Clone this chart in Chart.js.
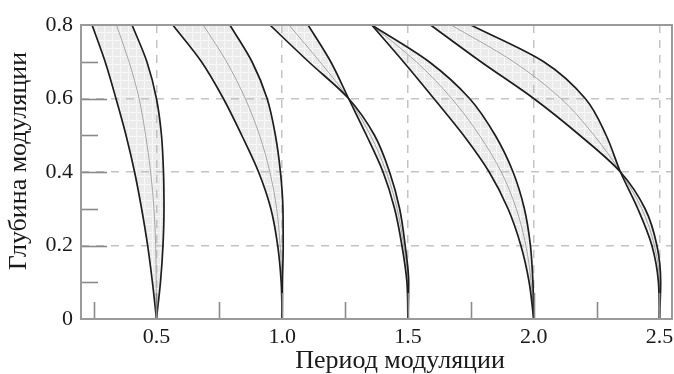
<!DOCTYPE html>
<html><head><meta charset="utf-8">
<script src="https://cdn.jsdelivr.net/npm/chart.js@4"></script>
<style>html,body{margin:0;padding:0;background:#fff}#wrap{width:674px;height:374px}</style>
</head><body><div id="wrap"><canvas id="c" width="674" height="374"></canvas></div>
<script>
// Modulation depth levels (y), bottom to top
const amplitude = [0, 0.1, 0.2, 0.3, 0.4, 0.5, 0.6, 0.7, 0.8];

// Tongue 1 (period 0.5)
const t1Left  = [0.500, 0.484, 0.465, 0.441, 0.413, 0.379, 0.339, 0.296, 0.244];
const t1Right = [0.500, 0.516, 0.526, 0.530, 0.528, 0.520, 0.500, 0.462, 0.403];
const t1Mid   = [0.500, 0.499, 0.497, 0.490, 0.477, 0.457, 0.431, 0.391, 0.341];
// Tongue 2 (period 1.0)
const t2Left  = [1.000, 0.996, 0.982, 0.955, 0.906, 0.839, 0.766, 0.679, 0.565];
const t2Right = [1.000, 1.001, 1.004, 1.003, 0.993, 0.973, 0.940, 0.880, 0.792];
const t2Mid   = [1.000, 0.999, 0.992, 0.978, 0.951, 0.910, 0.853, 0.779, 0.686];
// Tongue 3 (period 1.5)
const t3A   = [1.500, 1.503, 1.489, 1.467, 1.427, 1.367, 1.264, 1.105, 0.951];
const t3B   = [1.500, 1.496, 1.476, 1.447, 1.401, 1.335, 1.264, 1.193, 1.103];
const t3Mid = [1.500, 1.500, 1.483, 1.457, 1.414, 1.351, 1.264, 1.150, 1.027];
// Tongue 4 (period 2.0)
const t4Left  = [2.000, 1.982, 1.949, 1.898, 1.823, 1.721, 1.603, 1.482, 1.356];
const t4Right = [2.000, 1.997, 1.987, 1.963, 1.918, 1.847, 1.745, 1.584, 1.356];
const t4Mid   = [2.000, 1.990, 1.969, 1.931, 1.871, 1.784, 1.674, 1.533, 1.356];
// Tongue 5 (period 2.5)
const t5A   = [2.500, 2.505, 2.490, 2.443, 2.345, 2.183, 2.000, 1.790, 1.590];
const t5B   = [2.500, 2.496, 2.470, 2.414, 2.345, 2.288, 2.205, 2.040, 1.750];
const t5Mid = [2.500, 2.500, 2.480, 2.430, 2.345, 2.240, 2.108, 1.920, 1.672];

// Axis ticks
const xTicks = [0.25, 0.5, 0.75, 1.0, 1.25, 1.5, 1.75, 2.0, 2.25, 2.5];
const xMajor = [0.5, 1.0, 1.5, 2.0, 2.5];
const yTicks = [0, 0.1, 0.2, 0.3, 0.4, 0.5, 0.6, 0.7, 0.8];
const yMajor = [0.2, 0.4, 0.6];
const yLabels = [0, 0.2, 0.4, 0.6, 0.8];
const xTitle = 'Период модуляции';
const yTitle = 'Глубина модуляции';

const FONT = '"Liberation Serif", "DejaVu Serif", serif';
const near = (a, b) => Math.abs(a - b) < 1e-6;
const inList = (list, v) => list.some(t => near(t, v));

const canvas = document.getElementById('c');
const c2d = canvas.getContext('2d');
const pc = document.createElement('canvas'); pc.width = 8; pc.height = 8;
const p = pc.getContext('2d');
p.fillStyle = 'rgba(190,190,190,0.30)'; p.fillRect(0, 0, 8, 8);
p.clearRect(0, 0, 8, 1); p.clearRect(0, 0, 1, 8);
p.fillStyle = 'rgba(190,190,190,0.10)'; p.fillRect(0, 0, 8, 1); p.fillRect(0, 0, 1, 8);
const pattern = c2d.createPattern(pc, 'repeat');

const pts = xs => xs.map((x, i) => ({x: x, y: amplitude[i]}));
const tongues = [
  [t1Left, t1Right, t1Mid],
  [t2Left, t2Right, t2Mid],
  [t3A, t3B, t3Mid],
  [t4Left, t4Right, t4Mid],
  [t5A, t5B, t5Mid]
];
const lineOpts = {pointRadius: 0, cubicInterpolationMode: 'monotone'};
const datasets = [];
tongues.forEach(([a, b, m]) => {
  const base = datasets.length;
  datasets.push(Object.assign({data: pts(a), borderColor: '#1e1e1e', borderWidth: 1.7,
    fill: {target: base + 1}, backgroundColor: pattern}, lineOpts));
  datasets.push(Object.assign({data: pts(b), borderColor: '#1e1e1e', borderWidth: 1.7, fill: false}, lineOpts));
  datasets.push(Object.assign({data: pts(m), borderColor: '#a6a6a6', borderWidth: 1, fill: false}, lineOpts));
});

const decor = {
  id: 'decor',
  afterDraw(chart) {
    const ctx = chart.ctx, a = chart.chartArea, xs = chart.scales.x, ys = chart.scales.y;
    ctx.save();
    ctx.strokeStyle = '#8a8a8a'; ctx.lineWidth = 1.6;
    xTicks.forEach(v => {
      const px = Math.round(xs.getPixelForValue(v)) + 0.5;
      const len = inList(xMajor, v) ? 26 : 17;
      ctx.beginPath(); ctx.moveTo(px, a.bottom); ctx.lineTo(px, a.bottom - len); ctx.stroke();
    });
    yTicks.forEach(v => {
      if (near(v, 0) || near(v, 0.8)) return;
      const py = Math.round(ys.getPixelForValue(v)) + 0.5;
      const len = inList(yMajor, v) ? 26 : 17;
      ctx.beginPath(); ctx.moveTo(a.left, py); ctx.lineTo(a.left + len, py); ctx.stroke();
    });
    ctx.strokeStyle = '#9a9a9a'; ctx.lineWidth = 2;
    ctx.strokeRect(a.left, a.top, a.right - a.left, a.bottom - a.top);
    ctx.fillStyle = '#1a1a1a';
    ctx.font = '26px ' + FONT;
    ctx.textAlign = 'center'; ctx.textBaseline = 'alphabetic';
    ctx.fillText(xTitle, 400, 368);
    ctx.translate(26, 161); ctx.rotate(-Math.PI / 2);
    ctx.fillText(yTitle, 0, 0);
    ctx.restore();
  }
};

new Chart(canvas, {
  type: 'line',
  data: {datasets: datasets},
  plugins: [decor],
  options: {
    responsive: false, animation: false, devicePixelRatio: 1,
    indexAxis: 'y',
    layout: {padding: {top: 25, right: 2, left: 0, bottom: 0}},
    plugins: {legend: {display: false}, tooltip: {enabled: false}, filler: {drawTime: 'beforeDatasetsDraw'}},
    scales: {
      x: {
        type: 'linear', position: 'bottom', min: 0.2, max: 2.55,
        afterBuildTicks: s => { s.ticks = xTicks.map(v => ({value: v})); },
        afterFit: s => { s.height = 55; s.paddingLeft = 0; s.paddingRight = 0; },
        grid: {drawTicks: false, lineWidth: 1.5,
          color: ctx => (ctx.tick && inList(xMajor, ctx.tick.value)) ? '#c4c4c4' : 'rgba(0,0,0,0)'},
        border: {display: false, dash: [8, 7]},
        ticks: {autoSkip: false, maxRotation: 0, padding: 5, color: '#1a1a1a', font: {family: FONT, size: 22},
          callback: v => inList(xMajor, v) ? v.toFixed(1) : ''}
      },
      y: {
        type: 'linear', position: 'left', min: 0, max: 0.8,
        afterBuildTicks: s => { s.ticks = yTicks.map(v => ({value: v})); },
        afterFit: s => { s.width = 81; s.paddingTop = 0; s.paddingBottom = 0; },
        grid: {drawTicks: false, lineWidth: 1.5,
          color: ctx => (ctx.tick && inList(yMajor, ctx.tick.value)) ? '#c4c4c4' : 'rgba(0,0,0,0)'},
        border: {display: false, dash: [8, 7]},
        ticks: {autoSkip: false, padding: 8, color: '#1a1a1a', font: {family: FONT, size: 22},
          callback: v => inList(yLabels, v) ? (near(v, 0) ? '0' : v.toFixed(1)) : ''}
      }
    }
  }
});
</script></body></html>
